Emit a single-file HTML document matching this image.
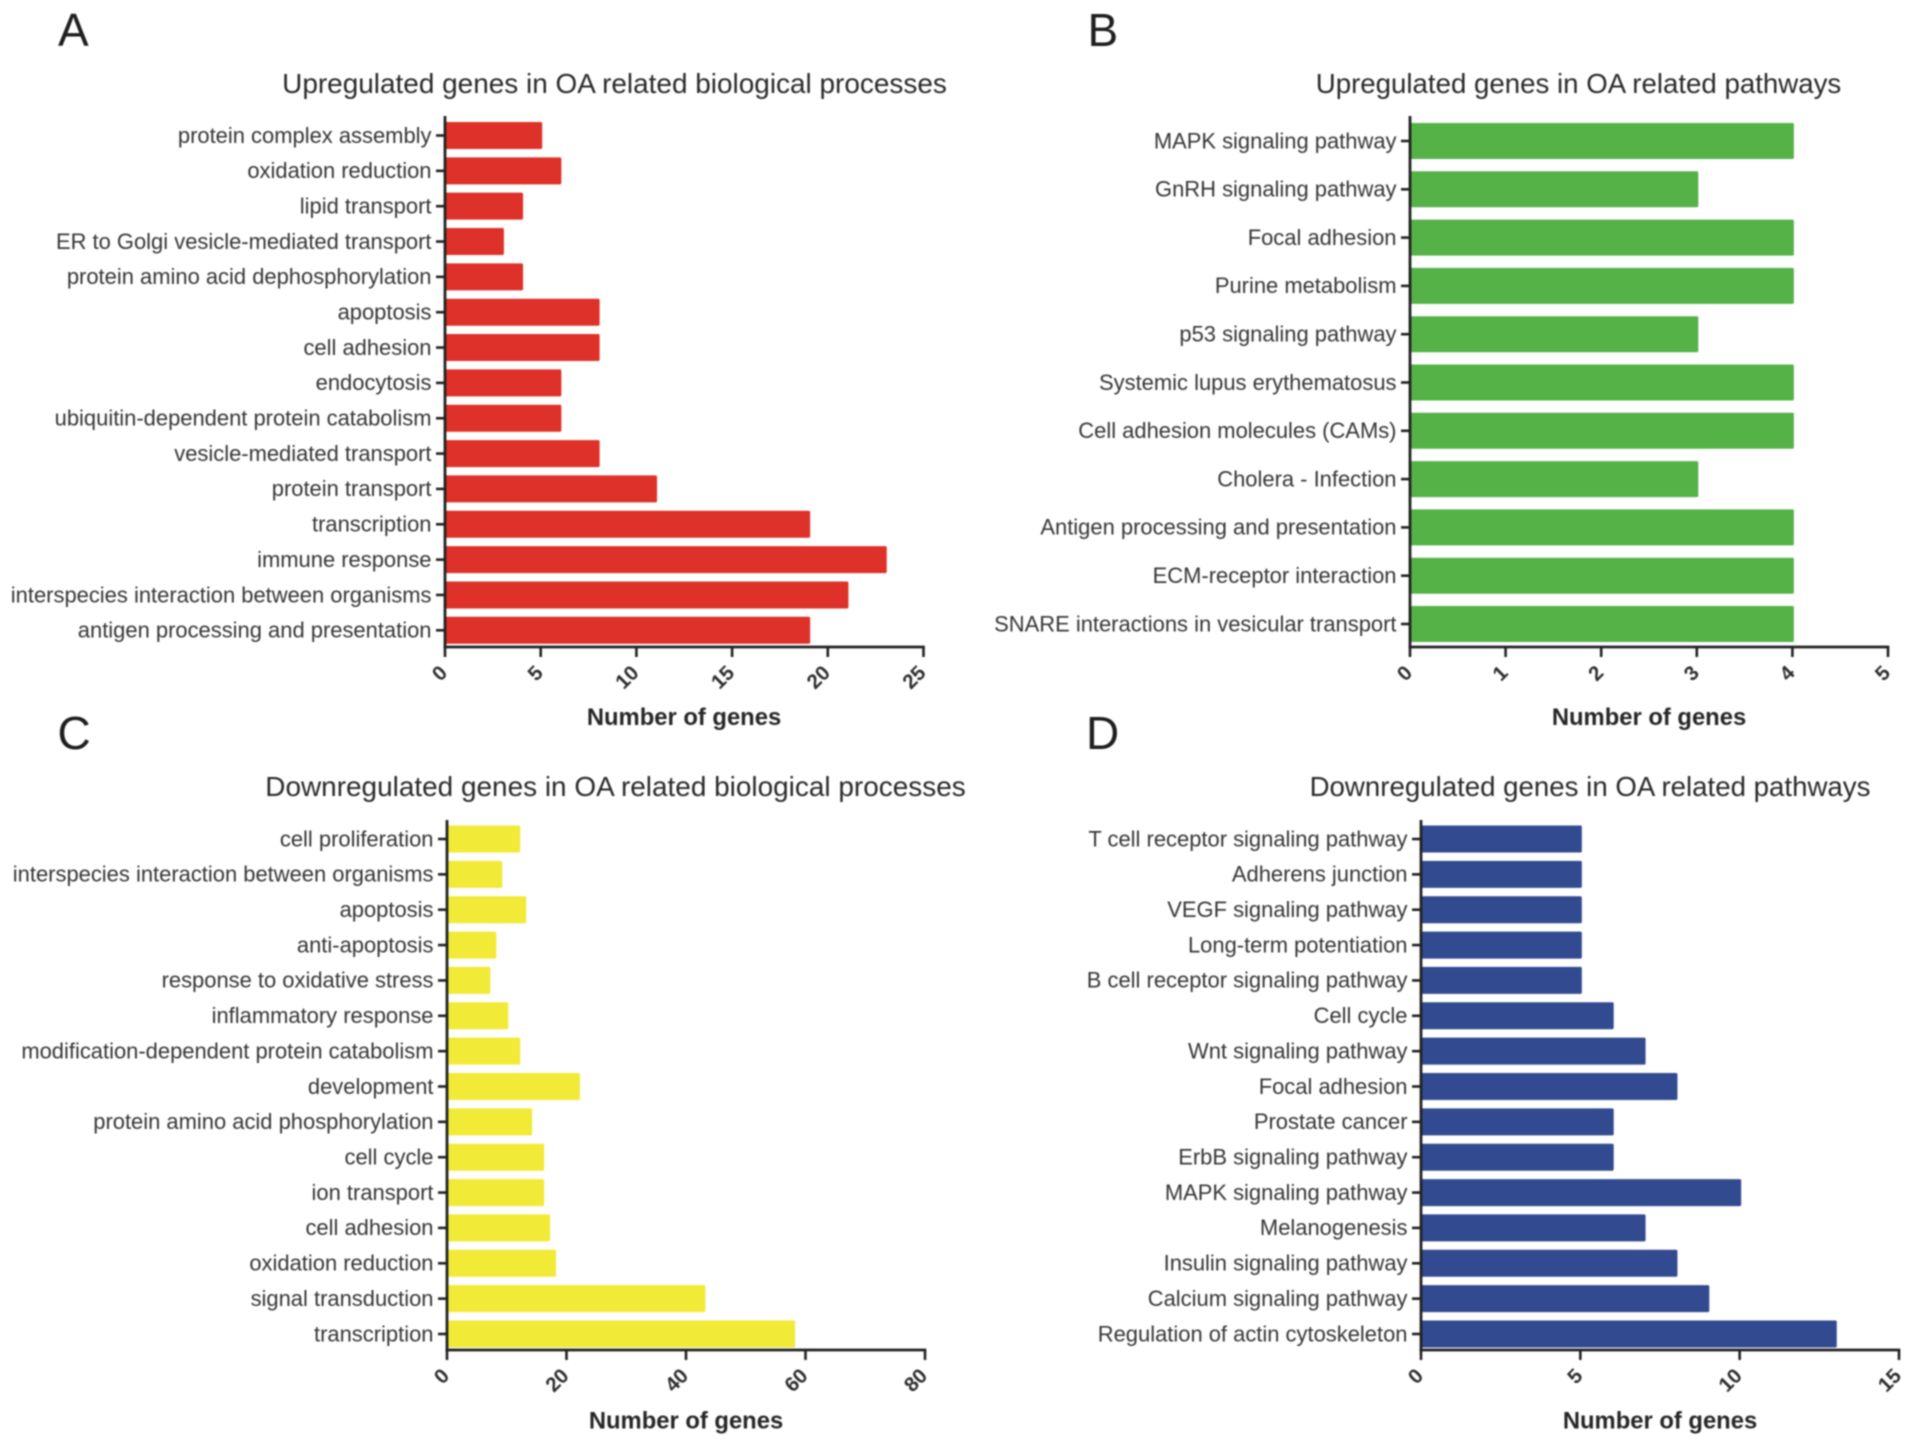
<!DOCTYPE html>
<html lang="en">
<head>
<meta charset="utf-8">
<title>Genes in OA related processes and pathways</title>
<style>
html,body{margin:0;padding:0;background:#fff;width:1913px;height:1446px;overflow:hidden}
svg{display:block;font-family:"Liberation Sans",Arial,sans-serif;filter:blur(.7px)}
.title{font-size:27.95px;fill:#2a2a2a;text-anchor:middle}
.title-narrow{font-size:27.65px}
.panel{font-size:46px;fill:#1e1e1e}
.cat{font-size:21.95px;fill:#363636;text-anchor:end}
.tick{font-size:20.5px;font-weight:bold;fill:#2e2e2e;text-anchor:end}
.axt{font-size:23.8px;font-weight:bold;fill:#262626;text-anchor:middle}
</style>
</head>
<body>
<svg id="fig" xmlns="http://www.w3.org/2000/svg" width="1913" height="1446" viewBox="0 0 1913 1446">
<rect width="1913" height="1446" fill="#fff"/>
<text class="panel" x="58" y="46">A</text>
<text class="panel" x="1087.5" y="46">B</text>
<text class="panel" x="57.5" y="749">C</text>
<text class="panel" x="1086" y="749">D</text>
<text class="title" x="614.5" y="93">Upregulated genes in OA related biological processes</text>
<text class="title title-narrow" x="1578.5" y="93">Upregulated genes in OA related pathways</text>
<text class="title" x="615.5" y="796">Downregulated genes in OA related biological processes</text>
<text class="title title-narrow" x="1590" y="796">Downregulated genes in OA related pathways</text>
<text class="axt" x="684" y="725">Number of genes</text>
<text class="axt" x="1649" y="725">Number of genes</text>
<text class="axt" x="686" y="1428.5">Number of genes</text>
<text class="axt" x="1660" y="1428.5">Number of genes</text>
</svg>
<script>
// Chart A
const categoriesA = ["protein complex assembly","oxidation reduction","lipid transport","ER to Golgi vesicle-mediated transport","protein amino acid dephosphorylation","apoptosis","cell adhesion","endocytosis","ubiquitin-dependent protein catabolism","vesicle-mediated transport","protein transport","transcription","immune response","interspecies interaction between organisms","antigen processing and presentation"];
const valuesA = [5,6,4,3,4,8,8,6,6,8,11,19,23,21,19];
const ticksA = [0,5,10,15,20,25];
// Chart B
const categoriesB = ["MAPK signaling pathway","GnRH signaling pathway","Focal adhesion","Purine metabolism","p53 signaling pathway","Systemic lupus erythematosus","Cell adhesion molecules (CAMs)","Cholera - Infection","Antigen processing and presentation","ECM-receptor interaction","SNARE interactions in vesicular transport"];
const valuesB = [4,3,4,4,3,4,4,3,4,4,4];
const ticksB = [0,1,2,3,4,5];
// Chart C
const categoriesC = ["cell proliferation","interspecies interaction between organisms","apoptosis","anti-apoptosis","response to oxidative stress","inflammatory response","modification-dependent protein catabolism","development","protein amino acid phosphorylation","cell cycle","ion transport","cell adhesion","oxidation reduction","signal transduction","transcription"];
const valuesC = [12,9,13,8,7,10,12,22,14,16,16,17,18,43,58];
const ticksC = [0,20,40,60,80];
// Chart D
const categoriesD = ["T cell receptor signaling pathway","Adherens junction","VEGF signaling pathway","Long-term potentiation","B cell receptor signaling pathway","Cell cycle","Wnt signaling pathway","Focal adhesion","Prostate cancer","ErbB signaling pathway","MAPK signaling pathway","Melanogenesis","Insulin signaling pathway","Calcium signaling pathway","Regulation of actin cytoskeleton"];
const valuesD = [5,5,5,5,5,6,7,8,6,6,10,7,8,9,13];
const ticksD = [0,5,10,15];

const NS = "http://www.w3.org/2000/svg";
const fig = document.getElementById("fig");

function make(tag, attrs, parent) {
  const el = document.createElementNS(NS, tag);
  for (const k in attrs) el.setAttribute(k, attrs[k]);
  parent.appendChild(el);
  return el;
}

function drawChart(id, cats, vals, ticks, frame) {
  const xMax = ticks[ticks.length - 1];
  const xScale = v => frame.x0 + (v / xMax) * (frame.x1 - frame.x0);
  const step = (frame.yLast - frame.yFirst) / (cats.length - 1);
  const yScale = i => frame.yFirst + i * step;

  const g = make("g", {}, fig);
  
  

  vals.forEach((v, i) => {
    const bar = make("rect", {
      x: xScale(0), y: yScale(i) - frame.barH / 2,
      width: xScale(v) - xScale(0) + 1.5, height: frame.barH,
      rx: 1.5, fill: frame.color
    }, g);
    
    

    const tick = make("line", {
      x1: xScale(0) - 9, x2: xScale(0), y1: yScale(i), y2: yScale(i),
      stroke: "#222", "stroke-width": 2.6
    }, g);
    
    

    const label = make("text", { class: "cat", x: xScale(0) - 13.5, y: yScale(i) + 7.3 }, g);
    label.textContent = cats[i];
    
    
  });

  ticks.forEach(t => {
    const x = xScale(t);
    const mark = make("line", {
      x1: x, x2: x, y1: frame.yAxisBottom, y2: frame.yAxisBottom + 10,
      stroke: "#222", "stroke-width": 2.6
    }, g);
    
    

    const lx = x + 3.5, ly = frame.yAxisBottom + 27;
    const lab = make("text", { class: "tick", x: lx, y: ly, transform: "rotate(-45 " + lx + " " + ly + ")" }, g);
    lab.textContent = t;
    
    
  });

  const yAxis = make("line", {
    x1: xScale(0), x2: xScale(0), y1: frame.yAxisTop, y2: frame.yAxisBottom + 1.4,
    stroke: "#222", "stroke-width": 2.8
  }, g);
  
  

  const xAxis = make("line", {
    x1: xScale(0) - 1.4, x2: xScale(xMax) + 1.3, y1: frame.yAxisBottom, y2: frame.yAxisBottom,
    stroke: "#222", "stroke-width": 2.8
  }, g);
  
  
}

drawChart("a", categoriesA, valuesA, ticksA, { x0: 445, x1: 923.5, yFirst: 135.5, yLast: 630.3, barH: 27, yAxisTop: 116, yAxisBottom: 647, color: "#dd3129" });
drawChart("b", categoriesB, valuesB, ticksB, { x0: 1410, x1: 1888, yFirst: 141, yLast: 624, barH: 36, yAxisTop: 116, yAxisBottom: 647, color: "#54b247" });
drawChart("c", categoriesC, valuesC, ticksC, { x0: 447, x1: 925, yFirst: 839, yLast: 1334, barH: 27, yAxisTop: 820, yAxisBottom: 1350, color: "#f1ea36" });
drawChart("d", categoriesD, valuesD, ticksD, { x0: 1421, x1: 1899, yFirst: 839, yLast: 1334, barH: 27, yAxisTop: 820, yAxisBottom: 1350, color: "#324a90" });
</script>
</body>
</html>
